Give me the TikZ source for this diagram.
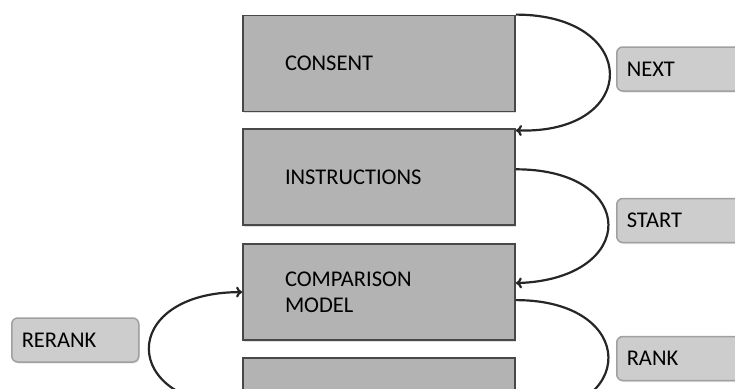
\documentclass[tikz,border=0pt]{standalone}
\usepackage{fontspec}
\setmainfont{Carlito}
\usetikzlibrary{positioning,shadows,arrows.meta}
\definecolor{boxfill}{RGB}{179,179,179}
\definecolor{boxline}{RGB}{72,72,72}
\definecolor{tagfill}{RGB}{205,205,205}
\definecolor{tagline}{RGB}{160,160,160}
\begin{document}
\begin{tikzpicture}[x=1pt, y=-1pt, font=\fontsize{22.5}{26}\selectfont,
    stage/.style = {draw=boxline, fill=boxfill, line width=1.8pt, minimum height=96pt,
        text width=188pt, inner xsep=42pt, align=left, text=black,
        drop shadow={shadow xshift=1pt, shadow yshift=-1.5pt, opacity=.25}},
    tag/.style = {draw=tagline, fill=tagfill, line width=1.5pt, rounded corners=6pt,
        minimum height=44pt, text width=107pt, inner xsep=10pt, align=left, anchor=west,
        drop shadow={shadow xshift=1pt, shadow yshift=-1.5pt, opacity=.2}},
    link/.style = {-{To[length=6pt,width=11pt]}, line width=2.2pt, black!85}]
    \clip (0,0) rectangle (735,388);
    \node[stage] (consent) at (379,63.5) {CONSENT};
    \node[stage] (instr) [below=16pt of consent] {INSTRUCTIONS};
    \node[stage] (comp) [below=17pt of instr] {COMPARISON\\MODEL};
    \node[stage] (rank) [below=16pt of comp] {};
    \node[tag] (next) at (616,69) {NEXT};
    \node[tag] (start) at (616,220.5) {START};
    \node[tag] (ranktag) at (616,358.5) {RANK};
    \node[tag] (rerank) at (11,340) {RERANK};
    % loops between the stages
    \draw[link] (consent.north east) .. controls +(125,0) and +(125,4) .. ([yshift=-2pt]instr.north east);
    \draw[link] ([yshift=8pt]instr.east) .. controls +(123,0) and +(123,-4) .. ([yshift=9pt]comp.east);
    \draw[link] ([yshift=-8pt]comp.east) .. controls +(123,0) and +(123,0) .. ([yshift=-9pt]rank.east);
    \draw[link] (rank.west) .. controls +(-124,0) and +(-124,0) .. (comp.west);
\end{tikzpicture}
\end{document}
